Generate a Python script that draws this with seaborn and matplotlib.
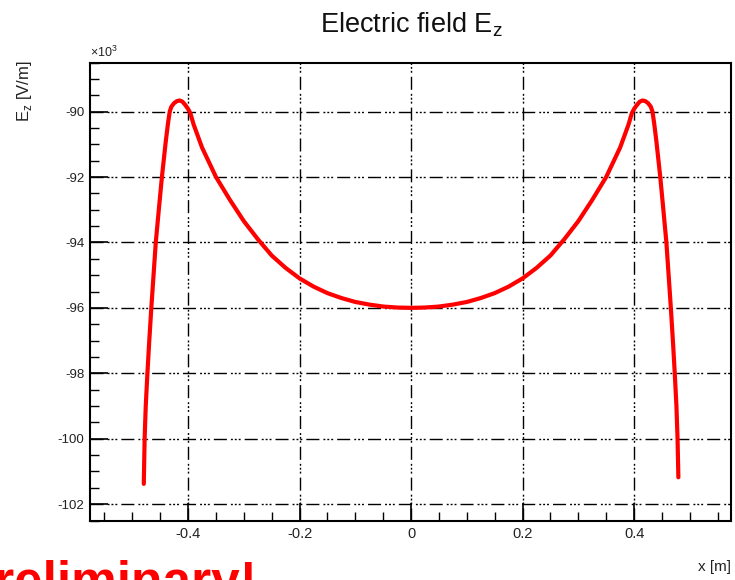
import matplotlib
matplotlib.use("Agg")
import matplotlib.pyplot as plt
from matplotlib.ticker import MultipleLocator, FixedLocator
import seaborn as sns
import pandas as pd

# ---- data (x in m, Ez in units of 10^3 V/m) ----
x_left = [-0.4795, -0.478, -0.476, -0.473, -0.470, -0.466, -0.462, -0.458, -0.452,
          -0.447, -0.440, -0.436, -0.433, -0.430, -0.425, -0.420, -0.415, -0.410,
          -0.405, -0.400, -0.396, -0.390, -0.375, -0.350, -0.325, -0.300, -0.275,
          -0.250, -0.225, -0.200, -0.175, -0.150, -0.125, -0.100, -0.075, -0.050,
          -0.025, 0.0]
ez_left = [-101.38, -100.0, -99.0, -98.0, -97.1, -96.0, -95.0, -94.0, -92.9,
           -92.0, -90.9, -90.35, -90.0, -89.85, -89.74, -89.68, -89.66, -89.70,
           -89.80, -89.92, -90.05, -90.40, -91.10, -92.00, -92.70, -93.35, -93.90,
           -94.40, -94.78, -95.10, -95.35, -95.55, -95.70, -95.82, -95.90, -95.96,
           -95.99, -96.00]
x_right = [0.025, 0.050, 0.075, 0.100, 0.125, 0.150, 0.175, 0.200, 0.225, 0.250,
           0.275, 0.300, 0.325, 0.350, 0.375, 0.390, 0.396, 0.400, 0.405, 0.410,
           0.415, 0.420, 0.425, 0.430, 0.433, 0.436, 0.440, 0.447, 0.452, 0.458,
           0.462, 0.466, 0.470, 0.473, 0.476, 0.478, 0.4795]
ez_right = [-95.99, -95.96, -95.90, -95.82, -95.70, -95.55, -95.35, -95.10, -94.78,
            -94.40, -93.90, -93.35, -92.70, -92.00, -91.10, -90.40, -90.05, -89.92,
            -89.80, -89.70, -89.66, -89.68, -89.74, -89.85, -90.0, -90.35, -90.9,
            -92.0, -92.9, -94.0, -95.0, -96.0, -97.1, -98.0, -99.0, -100.0, -101.18]

x_ticks = [-0.4, -0.2, 0.0, 0.2, 0.4]
x_tick_labels = ["-0.4", "-0.2", "0", "0.2", "0.4"]
y_ticks = [-102, -100, -98, -96, -94, -92, -90]
y_tick_labels = ["-102", "-100", "-98", "-96", "-94", "-92", "-90"]

df = pd.DataFrame({"x": x_left + x_right, "Ez": ez_left + ez_right})

sns.set_theme(style="white")
plt.rcParams["font.family"] = ["Liberation Sans", "DejaVu Sans"]

fig = plt.figure(figsize=(7.35, 5.8), dpi=100)
ax = fig.add_axes([90/735, 1-520.5/580, (730.5-90)/735, (520.5-62.5)/580])

sns.lineplot(data=df, x="x", y="Ez", ax=ax, sort=False, estimator=None,
             color="#ff0000", linewidth=3.0, zorder=5,
             solid_joinstyle="round", solid_capstyle="round")

ax.set_xlim(-0.576, 0.573)
ax.set_ylim(-102.5, -88.5)

ax.xaxis.set_major_locator(FixedLocator(x_ticks))
ax.set_xticklabels(x_tick_labels)
ax.xaxis.set_minor_locator(MultipleLocator(0.05))
ax.yaxis.set_major_locator(FixedLocator(y_ticks))
ax.set_yticklabels(y_tick_labels)
ax.yaxis.set_minor_locator(MultipleLocator(0.5))

ax.tick_params(which="major", direction="in", length=13, width=1.2, color="black",
               labelsize=9.5, labelcolor="#222222", pad=4, bottom=True, left=True)
ax.tick_params(axis="x", which="major", labelsize=10.5, pad=5)
ax.tick_params(which="minor", direction="in", length=6.5, width=1.0, color="black",
               bottom=True, left=True)

dash = (0, (9.4, 2.9, 1.4, 1.4, 1.4, 1.4, 1.4, 2.9))
ax.grid(True, which="major", color="black", linewidth=1.0, linestyle=dash)
for s in ax.spines.values():
    s.set_color("black")
    s.set_linewidth(1.5)

ax.set_xlabel("")
ax.set_ylabel("")

fig.text(411/735, 1-25/580, "Electric field E$_\\mathregular{z}$", ha="center", va="center",
         fontsize=19.5, color="#111111")
fig.text(24/735, 1-60/580, "E$_\\mathregular{z}$ [V/m]", rotation=90, ha="center", va="top",
         fontsize=12, color="#222222")
fig.text(731/735, 1-567/580, "x [m]", ha="right", va="center", fontsize=11, color="#222222")
fig.text(90/735, 1-52/580, "×10$^\\mathregular{3}$", ha="left", va="center", fontsize=9,
         color="#222222")
fig.text(258/735, -18/580, "Preliminary!", ha="right", va="baseline", fontsize=37,
         fontweight="bold", color="#ff0000")

fig.savefig("out.png", dpi=100)
